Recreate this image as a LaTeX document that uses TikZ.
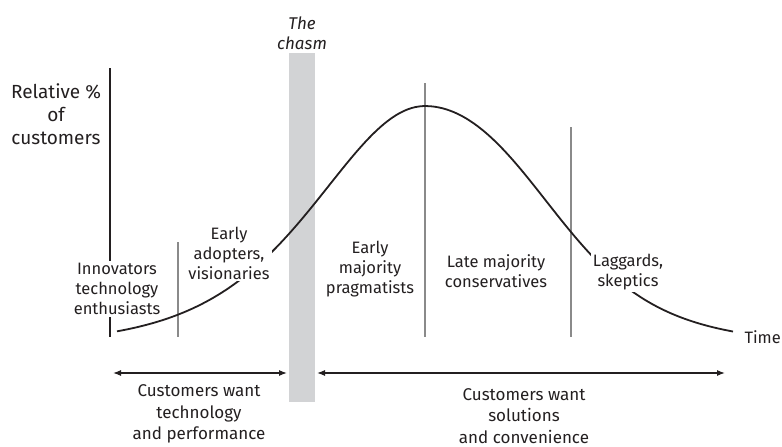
\documentclass[tikz,border=0pt]{standalone}
\usepackage{fontspec}
\setmainfont{Fira Sans}
\usetikzlibrary{arrows.meta}

\definecolor{chasmgray}{HTML}{D2D3D5}
\definecolor{splitgray}{HTML}{8A8A8A}
\definecolor{inkgray}{HTML}{231F20}

\begin{document}
\begin{tikzpicture}[x=1pt,y=-1pt,>={Latex[length=8pt,width=6pt]},
  every node/.style={text centered,align=center,text=inkgray,font=\fontsize{16.5}{20}\selectfont},
  group/.style={fill=white,inner sep=2pt},
  chasmtext/.style={font=\fontsize{17}{20}\selectfont\itshape},
  want/.style={font=\fontsize{17}{21.5}\selectfont}]

\useasboundingbox (0,0) rectangle (782,447);

\path [fill=chasmgray] (289,53) rectangle (315,402);

% axis and the group borders
\draw [line width=1.8pt,inkgray] (110,68) -- (110,337);
\draw [line width=1.3pt,splitgray] (178,242) -- (178,337);
\draw [line width=1.3pt,splitgray] (425,83) -- (425,337);
\draw [line width=1.3pt,splitgray] (571,127) -- (571,337);

% adoption curve, a bit wider on the right of the peak
\draw [line width=1.8pt,inkgray] plot [domain=117:733,samples=160]
  (\x,{345-239/(cosh((\x-425)/(\x<425 ? 146 : 145+35*exp(-((\x-425)/150)^2))))^2});

\node [font=\fontsize{19}{23}\selectfont] (yaxis) at (56,114) {Relative \%\\of\\customers};
\node [chasmtext] (chasm) at (302,33) {The\\chasm};

\node [group] (innov) at (117,289) {Innovators\\technology\\enthusiasts};
\node [group] (early) at (229,253) {Early\\adopters,\\visionaries};
\node [group] (earlymaj) at (370,269) {Early\\majority\\pragmatists};
\node [group] (latemaj) at (496,271) {Late majority\\conservatives};
\node [group] (lagg) at (628,272) {Laggards,\\skeptics};
\node [anchor=base west] (time) at (741,343) {Time};

\coordinate (techl) at (113,373);
\coordinate (techr) at (287,373);
\coordinate (solnl) at (317,373);
\coordinate (solnr) at (725,373);
\draw [<->,line width=1.2pt,inkgray] (techl) -- (techr);
\draw [<->,line width=1.2pt,inkgray] (solnl) -- (solnr);

\node [want,anchor=south] (techwant) at (199,447) {Customers want\\technology\\and performance};
\node [want,anchor=south] (solnwant) at (524,447) {Customers want\\solutions\\and convenience};

\end{tikzpicture}
\end{document}
